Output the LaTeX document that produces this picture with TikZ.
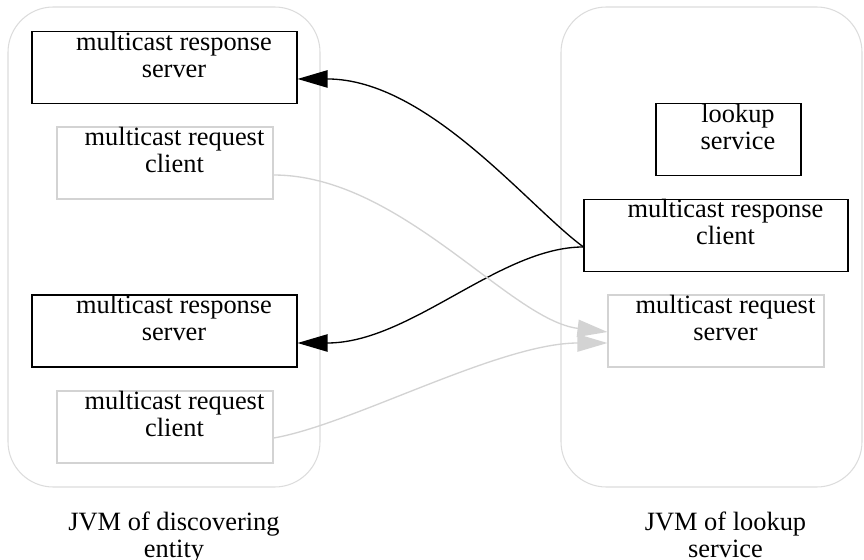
\documentclass[tikz,border=0pt]{standalone}
\usepackage{fontspec}
\setmainfont{Liberation Serif}
\usetikzlibrary{arrows.meta}
\definecolor{framegray}{HTML}{DCDCDC}
\definecolor{softgray}{HTML}{D3D3D3}
\tikzset{
  jvm/.style={draw=framegray, line width=0.8pt, rounded corners=34pt},
  boxdark/.style={draw=black, line width=0.8pt, minimum height=54pt, inner sep=0pt},
  boxlight/.style={draw=softgray, line width=0.8pt, minimum height=54pt, inner sep=0pt},
  caption/.style={anchor=north, inner sep=0pt, align=center,
    font=\fontsize{19.8pt}{20.3pt}\selectfont},
  darkflow/.style={draw=black, line width=1pt,
    -{Triangle[length=22.5pt, width=13pt]}},
  lightflow/.style={draw=softgray, line width=1pt,
    -{Triangle[length=22.5pt, width=13pt, fill=softgray]}},
}
\begin{document}
\begin{tikzpicture}[x=0.75pt, y=-0.75pt]
\useasboundingbox (0,0) rectangle (864,560);

% the two JVM frames
\draw[jvm] (8,7) rectangle (320,487);
\draw[jvm] (561,7) rectangle (862,487);

% components inside the discovering entity
\node[boxdark,  minimum width=198.75pt] (rsA) at (164.5,67.5) {};
\node[boxlight, minimum width=162pt]    (rqA) at (165,163) {};
\node[boxdark,  minimum width=198.75pt] (rsB) at (164.5,331) {};
\node[boxlight, minimum width=162pt]    (rqB) at (165,427) {};

% components inside the lookup service JVM
\node[boxdark,  minimum width=108.75pt] (lus) at (728.5,139.5) {};
\node[boxdark,  minimum width=198pt]    (mrc) at (716,235.5) {};
\node[boxlight, minimum width=162pt]    (mrs) at (716,331) {};

% box texts
\node[caption] (trsA) at (174,32)  {multicast response\\server};
\node[caption] (trqA) at (174.5,127) {multicast request\\client};
\node[caption] (trsB) at (174,295) {multicast response\\server};
\node[caption] (trqB) at (174.5,391) {multicast request\\client};
\node[caption] (tlus) at (738,104)  {lookup\\service};
\node[caption] (tmrc) at (725.5,199) {multicast response\\client};
\node[caption] (tmrs) at (725.5,295) {multicast request\\server};

% frame titles
\node[caption] (jvmA) at (174,512)   {JVM of discovering\\entity};
\node[caption] (jvmB) at (725.5,512) {JVM of lookup\\service};

% multicast responses
\draw[darkflow] ([yshift=-8.6pt]mrc.west) .. controls +(-55,-40) and +(130,0) .. ([yshift=-8.6pt]rsA.east);
\draw[darkflow] ([yshift=-8.6pt]mrc.west) .. controls +(-84,0) and +(113,0) .. ([yshift=-9pt]rsB.east);

% multicast requests
\draw[lightflow] ([yshift=-9pt]rqA.east) .. controls +(127,0) and +(-98,-12) .. ([yshift=-0.75pt]mrs.west);
\draw[lightflow] ([yshift=-8.25pt]rqB.east) .. controls +(77,-13) and +(-108,0) .. ([yshift=-9pt]mrs.west);
\end{tikzpicture}
\end{document}
